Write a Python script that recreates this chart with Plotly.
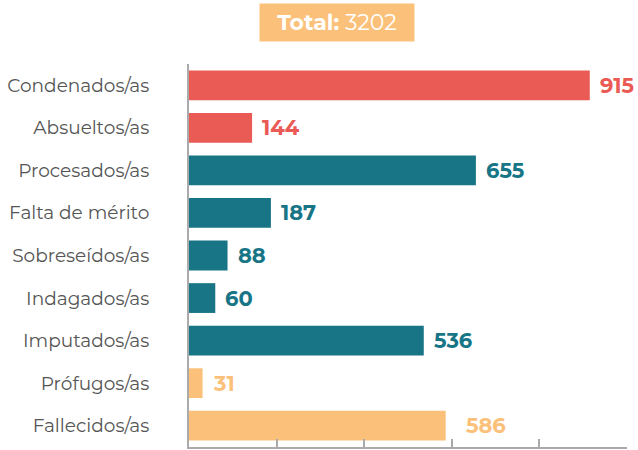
import plotly.graph_objects as go

categories = ["Condenados/as", "Absueltos/as", "Procesados/as", "Falta de mérito",
              "Sobreseídos/as", "Indagados/as", "Imputados/as", "Prófugos/as", "Fallecidos/as"]
values = [915, 144, 655, 187, 88, 60, 536, 31, 586]
groups = ["red", "red", "teal", "teal", "teal", "teal", "teal", "orange", "orange"]
total_label = "Total:"
total_value = 3202

palette = {"red": "#EA5B55", "teal": "#177586", "orange": "#FBC17B"}
colors = [palette[g] for g in groups]
FONT = "Montserrat, Lato, Open Sans, sans-serif"

fig = go.Figure()
fig.add_trace(go.Bar(
    y=categories, x=values, orientation="h",
    marker=dict(color=colors, line=dict(width=0)),
    hoverinfo="x+y",
))

for c, v, g in zip(categories, values, groups):
    fig.add_annotation(
        x=v, y=c, xref="x", yref="y", text=f"<b>{v}</b>", showarrow=False,
        xanchor="left", yanchor="middle", xshift=18 if v == 586 else 8,
        font=dict(family=FONT, size=21, color=palette[g]),
    )

fig.add_annotation(
    x=(337 - 189) / 438, y=1.0, xref="paper", yref="paper", xanchor="center", yanchor="bottom",
    yshift=22, width=146, height=29, borderpad=4,
    text=f"<b>{total_label}</b> {total_value}", showarrow=False,
    font=dict(family=FONT, size=22, color="white"),
    bgcolor=palette["orange"],
)

fig.update_layout(
    width=638, height=450,
    margin=dict(l=189, r=11, t=64, b=3),
    plot_bgcolor="white", paper_bgcolor="white",
    bargap=0.3, showlegend=False,
    font=dict(family=FONT, size=18, color="#555555"),
)
fig.update_xaxes(
    range=[0, 1000], dtick=200, tick0=0, showticklabels=False, showgrid=False,
    zeroline=False, showline=True, linecolor="#AAAAAA", linewidth=2,
    ticks="inside", ticklen=8, tickcolor="#AAAAAA", tickwidth=2, automargin=False,
)
fig.update_yaxes(
    autorange="reversed", showgrid=False, zeroline=False, showline=True,
    linecolor="#AAAAAA", linewidth=2, ticks="", ticklabelstandoff=34,
    tickfont=dict(family=FONT, size=18.5, color="#555555"), automargin=False,
)

fig.write_html(
    "out.html",
    config={"displayModeBar": False},
    post_script="document.body.style.margin='0';document.body.style.overflow='hidden';",
)
